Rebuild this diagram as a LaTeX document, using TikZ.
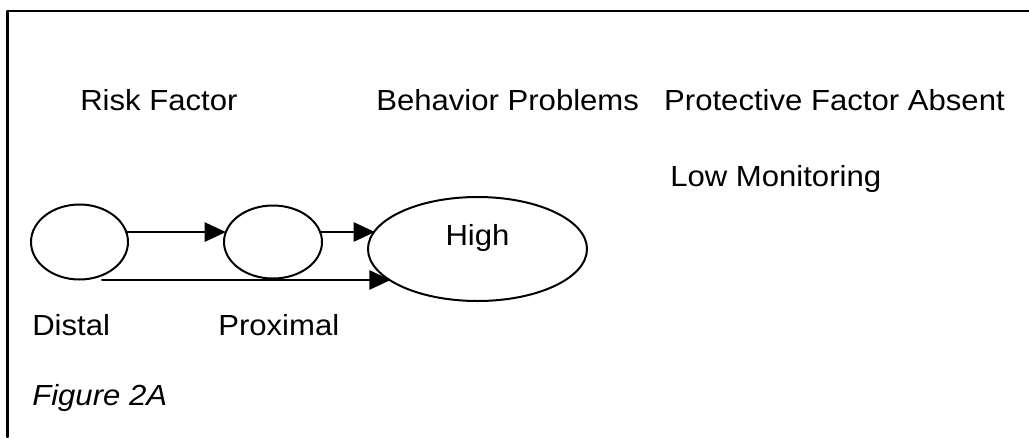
\documentclass[tikz,border=0pt]{standalone}
\usepackage{fontspec}
\setmainfont{Liberation Sans}[FakeStretch=1.07]
\usetikzlibrary{shapes.geometric,arrows.meta}

\begin{document}
\begin{tikzpicture}
% Figure 2A, laid out in pixel units of the scan
\def\pxsz{0.75pt}
\providecommand{\figLineColor}{black}
\providecommand{\figLineWidth}{1.5pt}
\providecommand{\figFrameWidth}{1.8pt}
\providecommand{\figFont}{\fontsize{21.8pt}{26pt}\selectfont}
\tikzset{
  oval/.style={draw=\figLineColor, line width=\figLineWidth, ellipse, inner sep=0pt, outer sep=0pt},
  lbl/.style={anchor=base west, inner sep=0pt, font=\figFont},
  arr/.style={draw=\figLineColor, line width=\figLineWidth, -{Triangle[length=16pt,width=14.5pt]}}
}
\begin{scope}[x=\pxsz, y=-\pxsz, line cap=round, line join=round]
  \useasboundingbox (0,0) rectangle (1029,437);
  % Frame (only the top and left edges show)
  \draw[draw=\figLineColor, line width=\figFrameWidth] (1029,11) -- (7.5,11) -- (7.5,437);
  % Column headings
  \node[lbl] (riskfactor) at (80,110) {Risk Factor};
  \node[lbl] (behavior) at (376,110) {Behavior Problems};
  \node[lbl, anchor=base east] (protective) at (1005,110) {Protective Factor Absent};
  \node[lbl] (lowmon) at (670,186) {Low Monitoring};
  % Ellipses
  \node[oval, minimum width=97*\pxsz, minimum height=75*\pxsz] (distal) at (79.5,242) {};
  \node[oval, minimum width=98*\pxsz, minimum height=73*\pxsz] (proximal) at (273,242) {};
  \node[oval, minimum width=219*\pxsz, minimum height=104*\pxsz] (high) at (477.5,249) {};
  \node[lbl, anchor=base] (hightxt) at (477.5,245) {High};
  % Arrows
  \draw[arr] (distal.12) -- (distal.12 -| proximal.168);
  \draw[arr] (proximal.12) -- (proximal.12 -| high.170);
  \coordinate (lowstart) at (102,280);
  \draw[arr] (lowstart) -- (lowstart -| high.200);
  % Bottom labels
  \node[lbl] (distaltxt) at (32,335) {Distal};
  \node[lbl] (proximaltxt) at (218,335) {Proximal};
  \node[lbl, font=\figFont\itshape] (figname) at (32,405) {Figure 2A};
\end{scope}
\end{tikzpicture}
\end{document}
